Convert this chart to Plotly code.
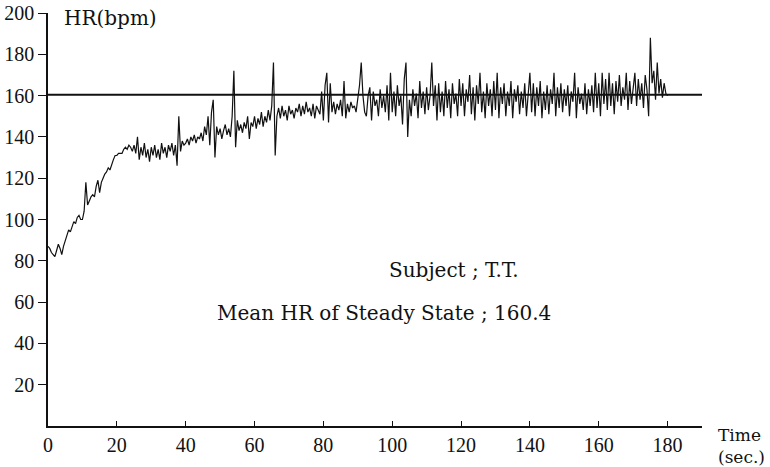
import plotly.graph_objects as go

# Time (sec.) sampled every 0.5 s
time_s = [i * 0.5 for i in range(361)]

# Heart rate (bpm)
hr_bpm = [
    # 0-10 s
    87, 86, 84, 83, 82, 85, 88, 86, 83, 87, 90, 92, 95, 94, 97, 99, 98, 101, 102, 100,
    # 10-20 s
    100, 104, 118, 107, 109, 111, 112, 111, 116, 119, 113, 118, 120, 122, 123, 125, 124, 127, 129, 131,
    # 20-30 s
    131, 132, 132, 132, 134, 135, 134, 136, 135, 133, 136, 132, 140, 129, 135, 131, 137, 130, 134, 128,
    # 30-40 s
    135, 131, 136, 130, 134, 129, 137, 132, 135, 130, 136, 133, 137, 131, 136, 126, 150, 133, 138, 136,
    # 40-50 s
    137, 139, 136, 140, 138, 141, 137, 140, 139, 142, 138, 145, 141, 150, 136, 152, 158, 130, 145, 141,
    # 50-60 s
    144, 139, 143, 146, 141, 144, 140, 150, 172, 135, 148, 143, 146, 142, 147, 144, 150, 139, 147, 145,
    # 60-70 s
    150, 144, 149, 146, 152, 145, 150, 147, 153, 148, 155, 176, 131, 150, 154, 149, 155, 150, 153, 148,
    # 70-80 s
    155, 151, 153, 149, 154, 152, 156, 150, 155, 151, 157, 152, 154, 150, 156, 149, 155, 153, 151, 162,
    # 80-90 s
    148, 165, 171, 147, 166, 152, 157, 151, 156, 153, 158, 150, 167, 149, 156, 152, 157, 154, 155, 152,
    # 90-100 s
    158, 165, 176, 160, 152, 150, 160, 164, 148, 162, 155, 158, 150, 163, 154, 160, 152, 165, 148, 171,
    # 100-110 s
    152, 162, 150, 165, 155, 160, 146, 168, 176, 140, 158, 150, 163, 155, 161, 149, 167, 154, 162, 151,
    # 110-120 s
    164, 153, 160, 176, 155, 165, 148, 166, 152, 162, 150, 167, 154, 163, 149, 166, 156, 161, 150, 168,
    # 120-130 s
    155, 166, 150, 163, 157, 170, 151, 164, 148, 165, 156, 171, 152, 162, 149, 166, 155, 163, 150, 167,
    # 130-140 s
    153, 171, 149, 164, 156, 166, 150, 162, 155, 167, 149, 163, 157, 165, 151, 162, 154, 166, 150, 163,
    # 140-150 s
    171, 152, 166, 150, 164, 155, 167, 149, 162, 153, 165, 151, 163, 156, 171, 150, 164, 154, 166, 152,
    # 150-160 s
    163, 155, 165, 150, 162, 157, 171, 149, 164, 156, 161, 153, 166, 151, 163, 155, 165, 152, 171, 154,
    # 160-170 s
    166, 150, 171, 156, 168, 153, 171, 155, 166, 151, 167, 157, 170, 155, 164, 158, 171, 153, 167, 156,
    # 170-180 s
    165, 171, 155, 168, 158, 166, 154, 170, 163, 150, 188, 166, 172, 158, 176, 161, 168, 159, 166, 161,
    160,
]

MEAN_HR = 160.4
X_TICKS = [0, 20, 40, 60, 80, 100, 120, 140, 160, 180]
Y_TICKS = [20, 40, 60, 80, 100, 120, 140, 160, 180, 200]
X_MAX = 190
Y_MAX = 200

fig = go.Figure()
fig.add_trace(go.Scatter(
    x=time_s, y=hr_bpm, mode="lines",
    line=dict(color="#111111", width=1.2),
    showlegend=False, hoverinfo="skip",
))

fig.add_shape(type="line", xref="x", yref="y",
              x0=0, x1=X_MAX, y0=MEAN_HR, y1=MEAN_HR,
              line=dict(color="#111111", width=2))

ann_font = dict(family="DejaVu Serif", size=20, color="#111111")
fig.add_annotation(x=0.0214, y=0.988, xref="paper", yref="paper", text="HR(bpm)",
                   showarrow=False, xanchor="left", yanchor="middle",
                   font=ann_font)
fig.add_annotation(x=0.621, y=0.378, xref="paper", yref="paper", text="Subject ; T.T.",
                   showarrow=False, xanchor="center", yanchor="middle",
                   font=ann_font)
fig.add_annotation(x=0.513, y=0.274, xref="paper", yref="paper",
                   text="Mean HR of Steady State ; " + str(MEAN_HR),
                   showarrow=False, xanchor="center", yanchor="middle",
                   font=ann_font)
fig.add_annotation(x=1.021, y=-0.048, xref="paper", yref="paper",
                   text="Time<br>(sec.)", align="left",
                   showarrow=False, xanchor="left", yanchor="middle",
                   font=dict(family="DejaVu Serif", size=17, color="#111111"))

tick_font = dict(family="Liberation Serif", size=20, color="#111111")
fig.update_xaxes(range=[0, X_MAX], tickvals=X_TICKS, ticktext=[str(v) for v in X_TICKS],
                 ticks="inside", ticklen=5, tickwidth=1.2, tickcolor="#111111",
                 showline=True, linecolor="#111111", linewidth=1.5, automargin=False,
                 showgrid=False, zeroline=False, tickfont=tick_font)
fig.update_yaxes(range=[0, Y_MAX], tickvals=Y_TICKS, ticktext=[str(v) for v in Y_TICKS],
                 ticks="outside", ticklen=8, tickwidth=1.2, tickcolor="#111111",
                 showline=True, linecolor="#111111", linewidth=1.5, automargin=False,
                 showgrid=False, zeroline=False, tickfont=tick_font)

fig.update_layout(
    width=770, height=467,
    margin=dict(l=48, r=68, t=13, b=41),
    paper_bgcolor="white", plot_bgcolor="white",
)

fig.write_html("out.html")
